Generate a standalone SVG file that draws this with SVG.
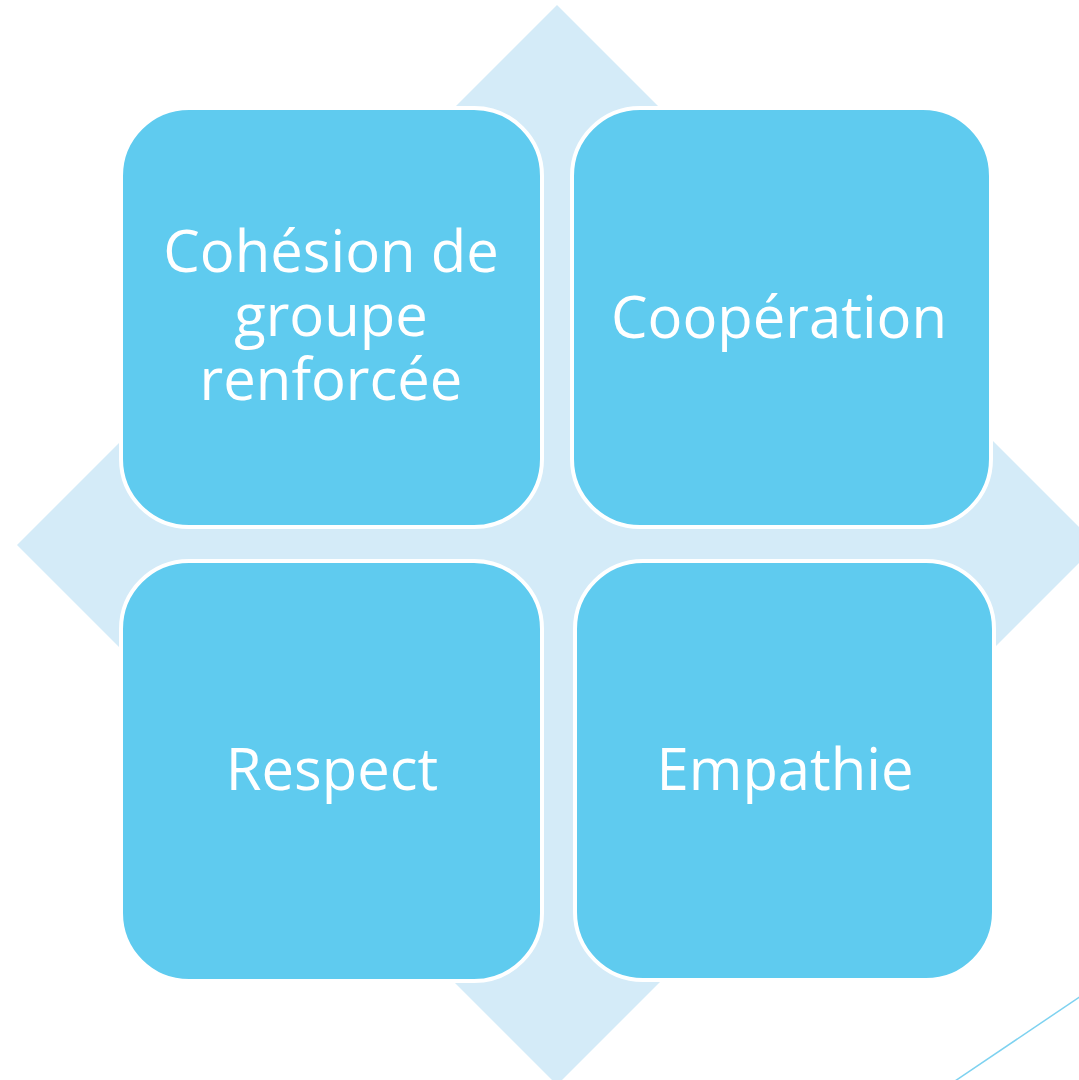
<svg xmlns="http://www.w3.org/2000/svg" width="1079" height="1080" viewBox="0 0 1079 1080">
<style>
.box{fill:#5FCBEF;stroke:#FFFFFF;stroke-width:4}
.lbl{font-family:"Open Sans","Noto Sans",sans-serif;font-size:58px;fill:#FFFFFF;text-anchor:middle}
</style>
<rect width="1079" height="1080" fill="#FFFFFF"/>
<g id="background">
<polygon points="557,5 1097,545 557,1085 17,545" fill="#D4EBF8"/>
<line x1="955" y1="1081" x2="1081" y2="996" stroke="#7ED2F0" stroke-width="1.5"/>
</g>
<g id="connectors"></g>
<g id="node1">
<rect class="box" x="121" y="108" width="421" height="419" rx="68" ry="68"/>
<text class="lbl"><tspan x="331" y="272">Cohésion de</tspan><tspan x="331" y="336">groupe</tspan><tspan x="331" y="400">renforcée</tspan></text>
</g>
<g id="node2">
<rect class="box" x="572" y="108" width="419" height="419" rx="68" ry="68"/>
<text class="lbl" x="779" y="338">Coopération</text>
</g>
<g id="node3">
<rect class="box" x="121" y="561" width="421" height="420" rx="68" ry="68"/>
<text class="lbl" x="332" y="790">Respect</text>
</g>
<g id="node4">
<rect class="box" x="575" y="561" width="419" height="419" rx="68" ry="68"/>
<text class="lbl" x="785" y="790">Empathie</text>
</g>
</svg>
